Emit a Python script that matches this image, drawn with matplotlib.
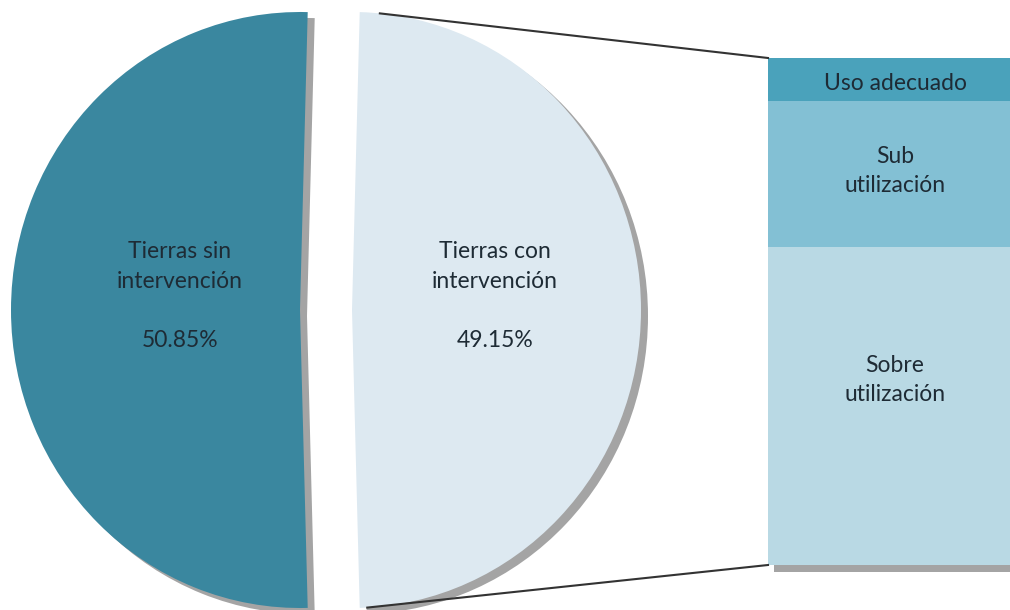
import numpy as np
import matplotlib.pyplot as plt
from matplotlib.transforms import Affine2D
from matplotlib.patches import PathPatch, Rectangle

# datos
categorias = ['Tierras sin\nintervención', 'Tierras con\nintervención']
porcentajes = [50.85, 49.15]
colores_pie = ['#3a879f', '#dde9f1']

# desglose de las tierras con intervención (% de la barra)
usos = ['Uso adecuado', 'Sub\nutilización', 'Sobre\nutilización']
partes_uso = [8.5, 28.8, 62.7]
colores_uso = ['#4aa2bb', '#83c0d4', '#b9d9e4']

plt.rcParams['font.family'] = ['Lato', 'DejaVu Sans']
color_texto = '#1e2b35'
sombra = '#9a9a9a'

fig = plt.figure(figsize=(10.1, 6.1), dpi=100)
ax = fig.add_axes([0, 0, 1, 1])

# geometria en pixeles (y hacia arriba)
cx, cy = 300, 300
rx, ry = 289, 298
sep = 52

inicio = 180 - porcentajes[0] / 100 * 360 / 2
wedges, _ = ax.pie(porcentajes, colors=colores_pie, startangle=inicio,
                   radius=1, center=(0, 0), explode=[0, sep / rx], frame=True)

elipse = Affine2D().scale(rx, ry).translate(cx, cy)
for w in wedges:
    w.set_transform(elipse + ax.transData)
    w.set_zorder(3)
    # sombra
    s = PathPatch(w.get_path(), transform=elipse + ax.transData + Affine2D().translate(7, -6),
                  facecolor=sombra, edgecolor='none', alpha=0.9, zorder=2)
    ax.add_patch(s)

# barra apilada
bar_x0, bar_x1 = 768, 1020
bar_y0, bar_y1 = 45, 552
alto_total = bar_y1 - bar_y0
alturas = [p / 100 * alto_total for p in partes_uso]
# de arriba hacia abajo
bases = [bar_y1 - sum(alturas[:i + 1]) for i in range(len(alturas))]
ax.add_patch(Rectangle((bar_x0 + 6, bar_y0 - 7), bar_x1 - bar_x0, alto_total,
                       facecolor=sombra, edgecolor='none', alpha=0.9, zorder=2))
ax.bar((bar_x0 + bar_x1) / 2, alturas, bottom=bases, width=bar_x1 - bar_x0,
       color=colores_uso, edgecolor='none', zorder=3)

# lineas de conexion
ccx = cx + sep
w2 = wedges[1]
a_sup = np.deg2rad(w2.theta2 - 4)
a_inf = np.deg2rad(w2.theta1 + 1.5)
ax.plot([ccx + rx * np.cos(a_sup), bar_x0], [cy + ry * np.sin(a_sup), bar_y1],
        color='#333333', lw=1.5, zorder=4)
ax.plot([ccx + rx * np.cos(a_inf), bar_x0], [cy + ry * np.sin(a_inf), bar_y0],
        color='#333333', lw=1.5, zorder=4)

# etiquetas
fs = 16.5
for x, cat, p in [(180, categorias[0], porcentajes[0]), (495, categorias[1], porcentajes[1])]:
    ax.text(x, 610 - 296, '{}\n\n{:.2f}%'.format(cat, p), ha='center', va='center',
            fontsize=fs, color=color_texto, linespacing=1.5, zorder=5)

centros_y = [b + h / 2 for b, h in zip(bases, alturas)]
ajuste = [-3.5, 3, 26]
for u, yc, d in zip(usos, centros_y, ajuste):
    ax.text(895, yc + d, u, ha='center', va='center', fontsize=fs,
            color=color_texto, linespacing=1.5, zorder=5)

ax.set_xlim(0, 1010)
ax.set_ylim(0, 610)
ax.set_aspect('auto')
ax.axis('off')

plt.savefig('out.png', dpi=100)
